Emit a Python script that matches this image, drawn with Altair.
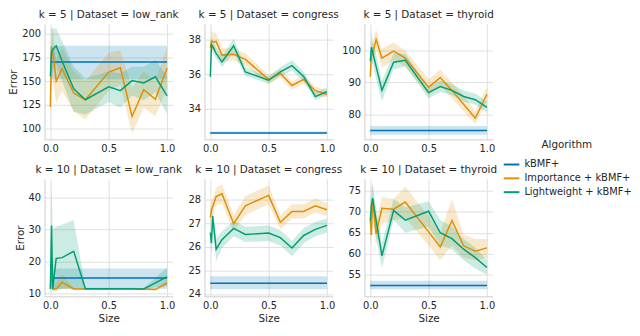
import altair as alt
import pandas as pd

sizes = [0.0, 0.01, 0.02, 0.05, 0.1, 0.2, 0.3, 0.5, 0.6, 0.7, 0.8, 0.9, 1.0]
algorithms = ["kBMF+", "Importance + kBMF+", "Lightweight + kBMF+"]
colors = ["#0173B2", "#DE8F05", "#029E73"]
datasets = ["low_rank", "congress", "thyroid"]
ks = [5, 10]

# k = 5, low_rank
lr5_base = [170, 152, 187]
lr5_imp = [123, 184, 182, 150, 163, 137.5, 130.5, 159.5, 164, 113, 141, 131, 163.5]
lr5_imp_lo = [97, 155, 150, 127, 140, 118, 110, 140, 146, 95, 122, 113, 142]
lr5_imp_hi = [150, 205, 205, 172, 185, 160, 150, 180, 182, 143, 160, 150, 185]
lr5_lw = [155, 180, 183, 187, 171, 142, 130.5, 144, 140, 150.5, 148, 154.5, 134.5]
lr5_lw_lo = [130, 150, 160, 168, 150, 118, 115, 128, 122, 135, 130, 138, 115]
lr5_lw_hi = [180, 205, 205, 205, 192, 165, 153, 160, 158, 165, 165, 172, 155]

# k = 5, congress
cg5_base = [32.62, 32.55, 32.7]
cg5_imp = [37.5, 37.9, 37.85, 37.88, 37.1, 37.15, 36.85, 35.7, 36.05, 35.35, 35.7, 35.05, 34.85]
cg5_imp_lo = [37.0, 37.4, 37.4, 37.45, 36.7, 36.8, 36.5, 35.45, 35.8, 35.1, 35.45, 34.8, 34.65]
cg5_imp_hi = [38.0, 38.6, 38.4, 38.4, 37.5, 37.5, 37.2, 35.95, 36.3, 35.6, 35.95, 35.3, 35.05]
cg5_lw = [35.85, 37.7, 37.6, 37.2, 36.7, 37.64, 36.13, 35.65, 36.13, 36.49, 35.87, 34.71, 35.0]
cg5_lw_lo = [35.4, 37.3, 37.25, 36.9, 36.4, 37.25, 35.9, 35.45, 35.9, 36.2, 35.6, 34.5, 34.8]
cg5_lw_hi = [36.3, 38.1, 38.0, 37.5, 37.0, 38.05, 36.4, 35.85, 36.4, 36.8, 36.15, 34.95, 35.25]

# k = 5, thyroid
th5_base = [75, 73.6, 76.4]
th5_imp = [91.8, 98.5, 99, 103.4, 97.6, 99.8, 97.6, 88.5, 91.5, 87.5, 83.2, 78.8, 86.3]
th5_imp_lo = [89, 95, 96, 100.5, 94.5, 97, 95, 86, 89, 85, 81, 77, 84]
th5_imp_hi = [95, 102, 102.5, 106.5, 100.5, 102.5, 100, 91, 94, 90, 86, 81, 88.5]
th5_lw = [96.6, 101, 99.5, 95, 87.5, 96.3, 96.9, 86.8, 88.7, 87.5, 85.6, 84.6, 82.2]
th5_lw_lo = [93, 97, 96, 91, 84, 94, 95, 85, 87, 86, 84, 83, 80.5]
th5_lw_hi = [100, 106, 103, 99, 90.5, 99, 99, 88.5, 90.5, 89.5, 87.5, 86.5, 84]

# k = 10, low_rank
lr10_base = [14.9, 11.6, 17.9]
lr10_imp = [11.5, 19, 11.5, 11.5, 13.6, 11.5, 11.5, 11.5, 11.5, 11.5, 11.5, 11.3, 13.4]
lr10_imp_lo = [10.5, 13, 10.8, 10.8, 11.5, 11.2, 11.2, 11.2, 11.2, 11.2, 11.2, 11.0, 12.4]
lr10_imp_hi = [13, 25, 13, 13.5, 16, 11.8, 11.8, 11.8, 11.8, 11.8, 11.8, 11.6, 14.5]
lr10_lw = [11.5, 31.3, 11.5, 21, 21.25, 23.2, 11.6, 11.6, 11.6, 11.6, 11.5, 13.4, 15.3]
lr10_lw_lo = [11.2, 20, 11.2, 11.5, 11.5, 11.8, 11.3, 11.3, 11.3, 11.3, 11.2, 12.0, 12.4]
lr10_lw_hi = [14, 46, 30, 31, 31.5, 33, 11.9, 11.9, 11.9, 11.9, 11.8, 15, 18.2]

# k = 10, congress
cg10_base = [24.45, 24.2, 24.75]
cg10_imp = [27.25, 27.57, 27.7, 28.13, 28.25, 26.98, 27.74, 28.18, 27.04, 27.5, 27.5, 27.74, 27.57]
cg10_imp_lo = [26.9, 27.2, 27.35, 27.75, 27.85, 26.65, 27.35, 27.8, 26.75, 27.2, 27.2, 27.45, 27.3]
cg10_imp_hi = [27.6, 27.95, 28.05, 28.5, 28.65, 27.35, 28.15, 28.6, 27.35, 27.8, 27.8, 28.05, 27.85]
cg10_lw = [26.6, 26.15, 27.3, 25.9, 26.3, 26.78, 26.52, 26.58, 26.39, 25.95, 26.48, 26.74, 26.91]
cg10_lw_lo = [26.0, 25.7, 26.9, 25.4, 25.95, 26.45, 26.2, 26.25, 26.05, 25.6, 26.15, 26.45, 26.6]
cg10_lw_hi = [27.1, 26.6, 27.7, 26.35, 26.65, 27.1, 26.85, 26.9, 26.7, 26.25, 26.8, 27.05, 27.2]

# k = 10, thyroid
th10_base = [52.5, 51.6, 53.6]
th10_imp = [68, 64.5, 73, 64.8, 70.8, 70.6, 72.3, 65.2, 61.6, 67.9, 61.9, 60.6, 61.4]
th10_imp_lo = [63, 62, 69, 62, 67, 68, 68.5, 62, 58.5, 62, 59, 58.5, 59]
th10_imp_hi = [73, 68, 77, 67.5, 73.5, 73, 76, 69, 65, 73, 64.5, 63.5, 63.5]
th10_lw = [67.9, 71.5, 73.2, 68.0, 59.5, 70.3, 68.0, 70.1, 65.0, 63.6, 61.1, 59.1, 56.75]
th10_lw_lo = [64, 67, 70, 64, 56.5, 68, 65, 66.5, 62, 61, 58.5, 56.5, 55]
th10_lw_hi = [72, 76, 76.5, 71, 62.5, 73, 71, 72.5, 68, 66.5, 63.5, 61.5, 58.5]

y_ticks = {
    (5, "low_rank"): [100, 125, 150, 175, 200],
    (5, "congress"): [34, 36, 38],
    (5, "thyroid"): [80, 90, 100],
    (10, "low_rank"): [10, 20, 30, 40],
    (10, "congress"): [24, 25, 26, 27, 28],
    (10, "thyroid"): [55, 60, 65, 70, 75],
}
y_domains = {
    (5, "low_rank"): [89, 210],
    (5, "congress"): [32.25, 38.9],
    (5, "thyroid"): [72.2, 108.3],
    (10, "low_rank"): [9.2, 45.8],
    (10, "congress"): [23.9, 28.88],
    (10, "thyroid"): [49.9, 77.8],
}

series = {
    (5, "low_rank"): (lr5_base, (lr5_imp, lr5_imp_lo, lr5_imp_hi), (lr5_lw, lr5_lw_lo, lr5_lw_hi)),
    (5, "congress"): (cg5_base, (cg5_imp, cg5_imp_lo, cg5_imp_hi), (cg5_lw, cg5_lw_lo, cg5_lw_hi)),
    (5, "thyroid"): (th5_base, (th5_imp, th5_imp_lo, th5_imp_hi), (th5_lw, th5_lw_lo, th5_lw_hi)),
    (10, "low_rank"): (lr10_base, (lr10_imp, lr10_imp_lo, lr10_imp_hi), (lr10_lw, lr10_lw_lo, lr10_lw_hi)),
    (10, "congress"): (cg10_base, (cg10_imp, cg10_imp_lo, cg10_imp_hi), (cg10_lw, cg10_lw_lo, cg10_lw_hi)),
    (10, "thyroid"): (th10_base, (th10_imp, th10_imp_lo, th10_imp_hi), (th10_lw, th10_lw_lo, th10_lw_hi)),
}

rows = []
for (k, ds), (base, imp, lw) in series.items():
    for i, s in enumerate(sizes):
        rows.append(dict(k=k, dataset=ds, algorithm=algorithms[0], size=s,
                         error=base[0], lo=base[1], hi=base[2]))
        rows.append(dict(k=k, dataset=ds, algorithm=algorithms[1], size=s,
                         error=imp[0][i], lo=imp[1][i], hi=imp[2][i]))
        rows.append(dict(k=k, dataset=ds, algorithm=algorithms[2], size=s,
                         error=lw[0][i], lo=lw[1][i], hi=lw[2][i]))
df = pd.DataFrame(rows)

color_line = alt.Color("algorithm:N",
                       scale=alt.Scale(domain=algorithms, range=colors),
                       legend=alt.Legend(title="Algorithm"))

PW = 130
PH = {5: 117, 10: 119}


def panel(k, ds, ri, ci):
    d = df[(df.k == k) & (df.dataset == ds)]
    x = alt.X("size:Q",
              scale=alt.Scale(domain=[-0.05, 1.05], nice=False, zero=False),
              axis=alt.Axis(values=[0.0, 0.5, 1.0], format=".1f",
                            title="Size" if ri == 1 else ""))
    yscale = alt.Scale(domain=y_domains[(k, ds)], nice=False, zero=False)
    yaxis = alt.Axis(values=y_ticks[(k, ds)], format="d",
                     title="Error" if ci == 0 else "")
    base = alt.Chart(d)
    layers = []
    for a, c in zip(algorithms, colors):
        layers.append(
            base.transform_filter(alt.datum.algorithm == a)
            .mark_area(color=c, opacity=0.2, clip=True)
            .encode(x=x, y=alt.Y("lo:Q", scale=yscale, axis=yaxis), y2="hi:Q")
        )
    layers.append(
        base.mark_line(strokeWidth=1.5, clip=True).encode(
            x=x, y=alt.Y("error:Q", scale=yscale, axis=yaxis), color=color_line)
    )
    return alt.layer(*layers).properties(
        width=PW, height=PH[k],
        title=alt.TitleParams(f"k = {k} | Dataset = {ds}", fontSize=10.5,
                              font="DejaVu Sans", fontWeight="normal",
                              color="#262626", offset=3))


panels = []
for ri, k in enumerate(ks):
    for ci, ds in enumerate(datasets):
        panels.append(panel(k, ds, ri, ci))

chart = alt.concat(*panels, columns=3, spacing={"row": 40, "column": 32},
                   bounds="flush").resolve_scale(
    y="independent"
).properties(
    padding=0
).configure_view(strokeWidth=0).configure_axis(
    domainColor="#cccccc", gridColor="#e0e0e0", ticks=False,
    labelFont="DejaVu Sans", labelFontSize=10, labelColor="#262626",
    titleFont="DejaVu Sans", titleFontSize=10.5, titleColor="#262626",
    titleFontWeight="normal", labelPadding=4, titlePadding=3, labelFlush=False
).configure_legend(
    orient="none", legendX=464, legendY=118,
    titleFont="DejaVu Sans", titleFontSize=10.5, titleFontWeight="normal",
    titleColor="#262626", titleAnchor="middle", titleAlign="center",
    labelFont="DejaVu Sans", labelFontSize=10, labelColor="#262626",
    symbolType="stroke", symbolStrokeWidth=2, symbolSize=250, rowPadding=0
)

chart.save("out.html", embed_options={"renderer": "svg", "actions": False})
